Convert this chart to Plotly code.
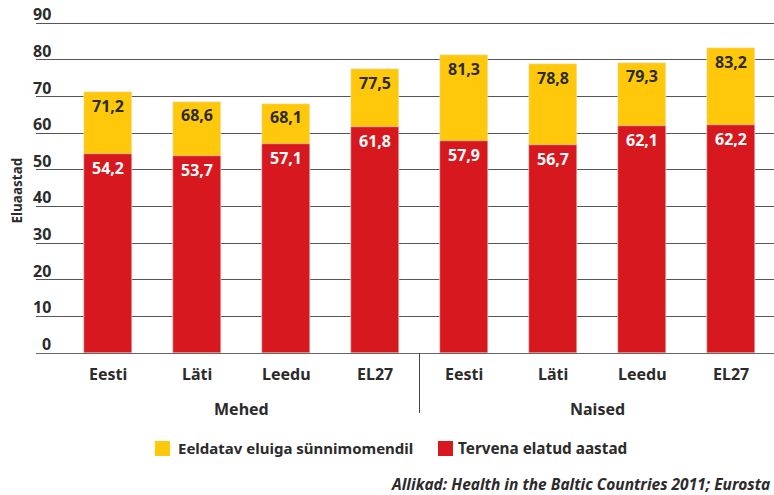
import plotly.graph_objects as go

# ---- data ----
groups = ["Mehed", "Naised"]
countries = ["Eesti", "Läti", "Leedu", "EL27", "Eesti", "Läti", "Leedu", "EL27"]
life_expectancy = [71.2, 68.6, 68.1, 77.5, 81.3, 78.8, 79.3, 83.2]
healthy_years = [54.2, 53.7, 57.1, 61.8, 57.9, 56.7, 62.1, 62.2]
y_ticks = [0, 10, 20, 30, 40, 50, 60, 70, 80, 90]
series_names = ["Eeldatav eluiga sünnimomendil", "Tervena elatud aastad"]
source_text = "Allikad: Health in the Baltic Countries 2011; Eurosta"
y_title = "Eluaastad"

YELLOW = "#FFC80A"
RED = "#D7181F"
DARK = "#2b2b2b"
FONT = "Noto Sans"

W, H = 774, 495
ML, MR, MT, MB = 36, 0, 16, 142
PW, PH = W - ML - MR, H - MT - MB


def px2x(px):
    return (px - ML) / PW


def py2y(py):
    return (H - MB - py) / PH


def fmt(v):
    return f"{v:.1f}".replace(".", ",")


def f(size, color=DARK, **kw):
    return dict(family=FONT, size=size, color=color, weight="bold", **kw)


xs = list(range(len(countries)))

fig = go.Figure()
fig.add_trace(go.Bar(x=xs, y=life_expectancy, marker_color=YELLOW, width=0.54,
                     name=series_names[0], showlegend=False, hoverinfo="skip"))
fig.add_trace(go.Bar(x=xs, y=healthy_years, marker_color=RED, width=0.54,
                     name=series_names[1], showlegend=False, hoverinfo="skip"))

ann = []
for x, le, hy in zip(xs, life_expectancy, healthy_years):
    ann.append(dict(x=x, y=le, text=fmt(le), showarrow=False, yanchor="middle", yshift=-13.5,
                    font=f(16)))
    ann.append(dict(x=x, y=hy, text=fmt(hy), showarrow=False, yanchor="middle", yshift=-14,
                    font=f(16, "white")))
    ann.append(dict(x=x, y=0, text=countries[x], showarrow=False, yanchor="middle", yshift=-21,
                    font=f(16)))

for gi, g in enumerate(groups):
    gx = [x for x in xs if x // 4 == gi]
    ann.append(dict(x=sum(gx) / len(gx), y=0, text=g, showarrow=False, yanchor="middle", yshift=-56,
                    font=f(16)))

for t in y_ticks:
    ann.append(dict(xref="paper", x=px2x(53), y=t, text=str(t), showarrow=False,
                    xanchor="right", yanchor="bottom", yshift=-4,
                    font=f(16)))

ann.append(dict(xref="paper", yref="paper", x=px2x(16.5), y=py2y(191), text=y_title, textangle=-90,
                showarrow=False, xanchor="center", yanchor="middle", font=f(13.5)))

# legend
ann.append(dict(xref="paper", yref="paper", x=px2x(176), y=py2y(448), text=series_names[0],
                showarrow=False, xanchor="left", yanchor="middle", font=f(15)))
ann.append(dict(xref="paper", yref="paper", x=px2x(456), y=py2y(448), text=series_names[1],
                showarrow=False, xanchor="left", yanchor="middle", font=f(15.3)))
ann.append(dict(xref="paper", yref="paper", x=px2x(772), y=py2y(484), text=source_text,
                showarrow=False, xanchor="right", yanchor="middle",
                font=f(15.5, style="italic")))

shapes = [
    dict(type="rect", xref="paper", yref="paper", x0=px2x(155), x1=px2x(170),
         y0=py2y(456), y1=py2y(441), fillcolor=YELLOW, line_width=0),
    dict(type="rect", xref="paper", yref="paper", x0=px2x(438), x1=px2x(453),
         y0=py2y(456), y1=py2y(441), fillcolor=RED, line_width=0),
    dict(type="line", xref="x", yref="paper", x0=3.5, x1=3.5, y0=0, y1=py2y(413),
         line=dict(color="#444", width=1)),
]

fig.update_layout(
    width=W, height=H, margin=dict(l=ML, r=MR, t=MT, b=MB),
    paper_bgcolor="white", plot_bgcolor="white",
    barmode="overlay", bargap=0,
    xaxis=dict(range=[-0.809, 7.483], showticklabels=False, showgrid=False, zeroline=False,
               showline=False, ticks=""),
    yaxis=dict(range=[0, 92], tickvals=y_ticks, showticklabels=False, showgrid=True,
               gridcolor="#555", gridwidth=1.3, zeroline=True, zerolinecolor="#666",
               zerolinewidth=1.3, showline=False, ticks=""),
    annotations=ann, shapes=shapes,
)

fig.write_html("out.html", config={"displayModeBar": False},
               post_script="document.body.style.margin='0';")
